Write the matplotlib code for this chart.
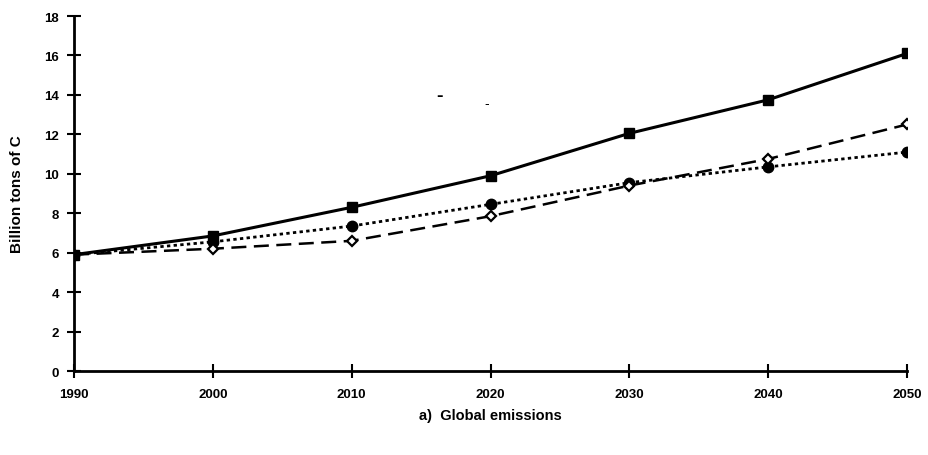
import numpy as np
import matplotlib.pyplot as plt

# Values
years = [1990, 2000, 2010, 2020, 2030, 2040, 2050]
solid_squares = [5.9, 6.85, 8.3, 9.9, 12.05, 13.75, 16.1]
dotted_circles = [5.9, 6.55, 7.35, 8.45, 9.55, 10.35, 11.1]
dashed_diamonds = [5.9, 6.2, 6.6, 7.85, 9.4, 10.75, 12.5]

yticks = np.arange(0, 19, 2)

plt.rcParams['font.family'] = ['Liberation Sans', 'DejaVu Sans']

fig = plt.figure(figsize=(9.29, 4.56), dpi=100)
ax = fig.add_axes([0.0797, 0.1842, 0.8966, 0.7785])

# Three scenario curves
ax.plot(years, dotted_circles, color='black', linestyle=(0, (1.2, 1.2)), linewidth=2,
        marker='o', markersize=7.5, markerfacecolor='black', zorder=3)
ax.plot(years, dashed_diamonds, color='black', linestyle=(0, (6, 3)), linewidth=1.8,
        marker='D', markersize=5.5, markerfacecolor='white', markeredgewidth=1.6, zorder=4)
ax.plot(years, solid_squares, color='black', linestyle='-', linewidth=2.2,
        marker='s', markersize=7, markerfacecolor='black', zorder=5)

ax.set_xlim(years[0], years[-1])
ax.set_ylim(0, 18)
ax.set_xticks(years)
ax.set_yticks(yticks)

for side in ['top', 'right']:
    ax.spines[side].set_visible(False)
for side in ['left', 'bottom']:
    ax.spines[side].set_linewidth(2)

ax.tick_params(direction='inout', length=10, width=1.5, labelsize=9.5, pad=6)
for lab in ax.get_xticklabels() + ax.get_yticklabels():
    lab.set_fontweight('bold')
ax.tick_params(axis='x', pad=7)

ax.set_ylabel('Billion tons of C', fontsize=11, fontweight='bold', labelpad=14)
ax.set_xlabel('a)  Global emissions', fontsize=10.5, fontweight='bold', labelpad=6)

# stray marks left in the scan
ax.text(0.439, 0.775, '-', transform=ax.transAxes, fontsize=14, fontweight='bold',
        ha='center', va='center')
ax.text(0.495, 0.756, '-', transform=ax.transAxes, fontsize=10,
        ha='center', va='center')

fig.savefig('out.png', dpi=100)
